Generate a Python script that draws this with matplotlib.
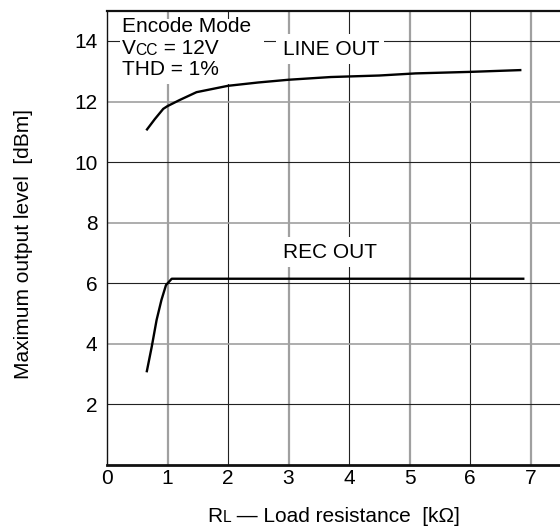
import matplotlib
matplotlib.use("Agg")
import matplotlib.pyplot as plt
from matplotlib.patches import Rectangle

# Data
line_out_x = [0.65, 0.79, 0.93, 1.0, 1.2, 1.48, 2.0, 2.5, 3.0, 3.7, 4.5, 5.1, 6.0, 6.85]
line_out_y = [11.05, 11.42, 11.76, 11.85, 12.05, 12.31, 12.52, 12.63, 12.72, 12.81, 12.86, 12.93, 12.98, 13.04]
rec_out_x = [0.655, 0.74, 0.82, 0.9, 0.975, 1.07, 6.9]
rec_out_y = [3.06, 3.91, 4.79, 5.45, 5.94, 6.15, 6.15]
x_ticks = [0, 1, 2, 3, 4, 5, 6, 7]
y_ticks = [2, 4, 6, 8, 10, 12, 14]

plt.rcParams['font.family'] = ['Liberation Sans', 'DejaVu Sans']
FS = 15

fig = plt.figure(figsize=(5.6, 5.28), dpi=100)
ax = fig.add_axes([107/560, 1-465/528, (560.75-107)/560, (465-10.7)/528])
ax.set_xlim(0, 7.5)
ax.set_ylim(0, 15)

# grid lines: alternating gray-thick and dark-thin
for xv in x_ticks[1:]:
    if xv % 2 == 1:
        ax.axvline(xv, color='#a0a0a0', lw=1.6, zorder=1)
    else:
        ax.axvline(xv, color='#222222', lw=0.8, zorder=1)
for yv in y_ticks:
    if (yv // 2) % 2 == 0:
        ax.axhline(yv, color='#a0a0a0', lw=1.2, zorder=1)
    else:
        ax.axhline(yv, color='#222222', lw=0.8, zorder=1)

# white boxes behind labels
ax.add_patch(Rectangle((0.21, 12.58), 2.39, 2.15, facecolor='white', edgecolor='none', zorder=2))
ax.add_patch(Rectangle((2.80, 13.24), 1.78, 0.99, facecolor='white', edgecolor='none', zorder=2))
ax.add_patch(Rectangle((2.80, 6.54), 1.78, 0.99, facecolor='white', edgecolor='none', zorder=2))

ax.plot(line_out_x, line_out_y, color='black', lw=1.7, zorder=3, solid_capstyle='butt')
ax.plot(rec_out_x, rec_out_y, color='black', lw=1.7, zorder=3, solid_capstyle='butt')

ax.text(0.243, 14.29, 'Encode Mode', fontsize=FS, ha='left', va='baseline', zorder=4)
tv = ax.text(0.243, 13.57, 'V', fontsize=FS, ha='left', va='baseline', zorder=4)
tcc = ax.annotate('CC', xy=(1.0, 0.0), xycoords=tv, fontsize=FS*0.75, ha='left', va='bottom', zorder=4)
ax.annotate(' = 12V', xy=(1.0, 0.0), xycoords=tcc, fontsize=FS, ha='left', va='bottom', zorder=4)
ax.text(0.243, 12.88, 'THD = 1%', fontsize=FS, ha='left', va='baseline', zorder=4)

ax.text(2.91, 13.54, 'LINE OUT', fontsize=FS, ha='left', va='baseline', zorder=4)
ax.text(2.91, 6.83, 'REC OUT', fontsize=FS, ha='left', va='baseline', zorder=4)

ax.set_xticks(x_ticks)
ax.set_xticklabels([str(v) for v in x_ticks], fontsize=FS)
ax.set_yticks(y_ticks)
ax.set_yticklabels([str(v) for v in y_ticks], fontsize=FS)
ax.tick_params(axis='x', length=0, pad=3)
ax.tick_params(axis='y', length=0, pad=7)

ax.spines['right'].set_visible(False)
ax.spines['left'].set_linewidth(1.0)
ax.spines['bottom'].set_linewidth(2.0)
ax.spines['top'].set_linewidth(1.6)
for s in ['left', 'bottom', 'top']:
    ax.spines[s].set_color('#111111')

ax.set_ylabel('Maximum output level  [dBm]', fontsize=FS)
ax.yaxis.set_label_coords(-0.163, 0.486)

# x label with small-caps subscript L
fig.canvas.draw()
r = fig.canvas.get_renderer()
pieces = [('R', FS), ('L', FS*0.75), (' \u2014 Load resistance  [k\u03a9]', FS)]
widths = []
for s, f in pieces:
    t = fig.text(0, 0, s, fontsize=f)
    widths.append(t.get_window_extent(r).width)
    t.remove()
total = sum(widths)
cx = (107 + 560.75) / 2
x0 = cx - total / 2
base_y = 528 - 521.7
for (s, f), w in zip(pieces, widths):
    fig.text(x0 / 560, base_y / 528, s, fontsize=f, ha='left', va='baseline')
    x0 += w

fig.savefig('out.png', dpi=100)
